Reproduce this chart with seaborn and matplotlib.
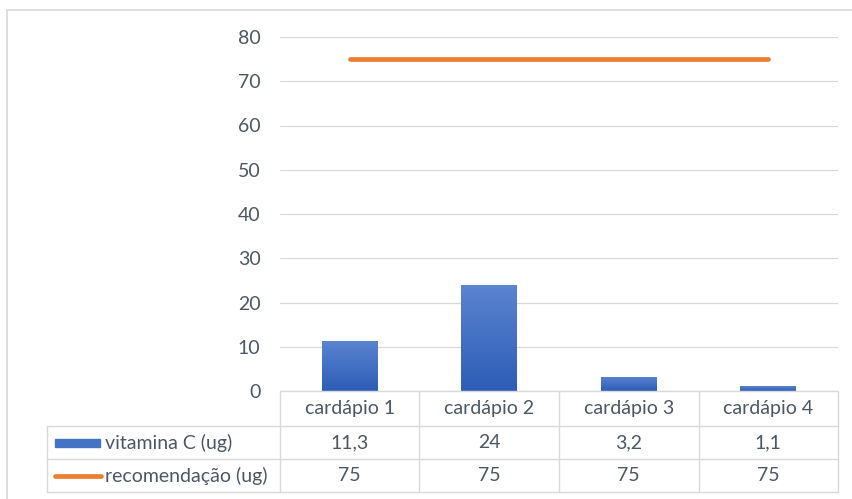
import numpy as np
import pandas as pd
import matplotlib.pyplot as plt
import seaborn as sns
from matplotlib.patches import Rectangle
from matplotlib.lines import Line2D
from matplotlib.colors import LinearSegmentedColormap

# data
categorias = ['cardápio 1', 'cardápio 2', 'cardápio 3', 'cardápio 4']
vitamina_c = [11.3, 24, 3.2, 1.1]
recomendacao = [75, 75, 75, 75]
serie_nomes = ['vitamina C (ug)', 'recomendação (ug)']
y_ticks = [0, 10, 20, 30, 40, 50, 60, 70, 80]

df = pd.DataFrame({'cat': categorias, 'vit': vitamina_c, 'rec': recomendacao})

sns.set_theme(style='white')
plt.rcParams['font.family'] = ['Lato', 'DejaVu Sans']
txt = '#4D5664'
grid = '#D9D9D9'
blue = '#4472C4'
orange = '#ED7D31'
fs = 14

W, H = 853, 499
fig = plt.figure(figsize=(W / 100, H / 100), dpi=100)
ax = fig.add_axes([280 / W, 1 - 391 / H, (838 - 280) / W, (391 - 37) / H])

sns.barplot(data=df, x='cat', y='vit', color=blue, width=0.4, ax=ax,
            saturation=1, edgecolor='none')

# gradient fill on the bars
cmap = LinearSegmentedColormap.from_list('g', ['#2E5DB6', '#5B84D1'])
grad = np.linspace(0, 1, 100).reshape(-1, 1)
for p in ax.patches:
    x0, y0 = p.get_x(), p.get_y()
    im = ax.imshow(grad, cmap=cmap, origin='lower', aspect='auto',
                   extent=[x0, x0 + p.get_width(), y0, y0 + p.get_height()], zorder=2)
    im.set_clip_path(p)
    p.set_facecolor('none')

xs = np.arange(len(categorias))
sns.lineplot(x=xs, y=recomendacao, color=orange, linewidth=3.4, ax=ax,
             solid_capstyle='round', zorder=3)

ax.set_xlim(-0.5, len(categorias) - 0.5)
ax.set_ylim(0, 80)
ax.set_yticks(y_ticks)
ax.set_yticklabels([str(t) for t in y_ticks], fontsize=fs, color=txt)
ax.tick_params(axis='y', length=0, pad=14)
ax.set_xticks([])
ax.set_xlabel('')
ax.set_ylabel('')
for s in ax.spines.values():
    s.set_visible(False)
ax.yaxis.grid(True, color=grid, linewidth=0.9)
ax.set_axisbelow(True)

# data table under the plot
tr = ax.get_xaxis_transform()
ah = 391 - 37
cw = (838 - 280) / 4
r1, r2, r3 = -35 / ah, -68 / ah, -101 / ah
xl = (47 - 280) / cw - 0.5
n = len(categorias)
kw = dict(transform=tr, color=grid, linewidth=1, clip_on=False)
ax.add_line(Line2D([-0.5, n - 0.5], [0, 0], **kw))
for yy in (r1, r2, r3):
    ax.add_line(Line2D([xl, n - 0.5], [yy, yy], **kw))
for xx in np.arange(n + 1) - 0.5:
    ax.add_line(Line2D([xx, xx], [0, r3], **kw))
ax.add_line(Line2D([xl, xl], [r1, r3], **kw))

for i, c in enumerate(categorias):
    ax.text(i, (0 + r1) / 2, c, transform=tr, ha='center', va='center',
            fontsize=fs, color=txt)
    ax.text(i, (r1 + r2) / 2, f'{vitamina_c[i]:g}'.replace('.', ','), transform=tr,
            ha='center', va='center', fontsize=fs, color=txt)
    ax.text(i, (r2 + r3) / 2, f'{recomendacao[i]:g}'.replace('.', ','), transform=tr,
            ha='center', va='center', fontsize=fs, color=txt)

# legend keys inside the table
kx0 = (55 - 280) / cw - 0.5
kx1 = (100 - 280) / cw - 0.5
tx = (105 - 280) / cw - 0.5
ym2 = (r1 + r2) / 2
ym3 = (r2 + r3) / 2
ax.add_patch(Rectangle((kx0, ym2 - 4 / ah), kx1 - kx0, 8 / ah, transform=tr,
                       color=blue, clip_on=False))
ax.add_line(Line2D([(55 - 280) / cw - 0.5, (101 - 280) / cw - 0.5], [ym3, ym3],
                   transform=tr, color=orange, linewidth=3.4,
                   solid_capstyle='round', clip_on=False))
ax.text(tx, ym2, serie_nomes[0], transform=tr, ha='left', va='center',
        fontsize=fs, color=txt)
ax.text(tx, ym3, serie_nomes[1], transform=tr, ha='left', va='center',
        fontsize=fs, color=txt)

# outer chart frame
fig.add_artist(Rectangle((7 / W, -0.1), (W + 10) / W, 1.1 - 10 / H,
                         transform=fig.transFigure, fill=False,
                         edgecolor=grid, linewidth=1.2))

fig.savefig('out.png', dpi=100)
